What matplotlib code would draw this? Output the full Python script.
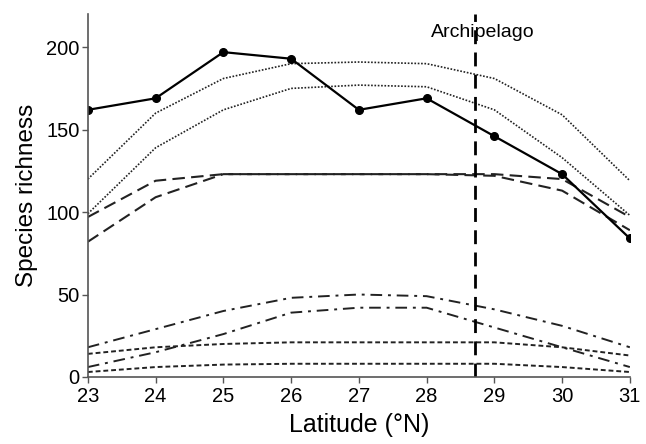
import matplotlib.pyplot as plt

plt.rcParams['font.family'] = ['Liberation Sans', 'DejaVu Sans']

lat = [23, 24, 25, 26, 27, 28, 29, 30, 31]
observed = [162, 169, 197, 193, 162, 169, 146, 123, 84]

# model envelopes (upper / lower)
dotted_hi = [120, 160, 181, 190, 191, 190, 181, 159, 119]
dotted_lo = [99, 139, 162, 175, 177, 176, 162, 133, 98]
dashed_hi = [97, 119, 123, 123, 123, 123, 123, 120, 97]
dashed_lo = [82, 109, 123, 123, 123, 123, 122, 113, 89]
dashdot_hi = [18, 29, 40, 48, 50, 49, 41, 31, 18]
dashdot_lo = [6, 15, 26, 39, 42, 42, 30, 18, 6]
short_hi = [14, 18, 20, 21, 21, 21, 21, 18, 13]
short_lo = [3, 6, 7.5, 8, 8, 8, 8, 6, 3]

archipelago = 28.72

fig = plt.figure(figsize=(6.46, 4.44), dpi=100)
ax = fig.add_axes([0.136, 0.151, 0.839, 0.817])

ax.plot(lat, dotted_hi, color='#222222', lw=1.2, linestyle=(0, (1, 1)))
ax.plot(lat, dotted_lo, color='#222222', lw=1.2, linestyle=(0, (1, 1)))
ax.plot(lat, dashed_hi, color='#222222', lw=1.5, linestyle=(0, (6, 3)))
ax.plot(lat, dashed_lo, color='#222222', lw=1.5, linestyle=(0, (6, 3)))
ax.plot(lat, dashdot_hi, color='#222222', lw=1.4, linestyle=(0, (6, 3, 1.5, 3)))
ax.plot(lat, dashdot_lo, color='#222222', lw=1.4, linestyle=(0, (6, 3, 1.5, 3)))
ax.plot(lat, short_hi, color='#222222', lw=1.4, linestyle=(0, (2.5, 1.5)))
ax.plot(lat, short_lo, color='#222222', lw=1.4, linestyle=(0, (2.5, 1.5)))
ax.plot(lat, observed, color='black', lw=1.6, marker='o', markersize=5.5)

ax.axvline(archipelago, color='black', lw=2, linestyle=(0, (5, 3)))
ax.annotate('Archipelago', (archipelago, 209), xytext=(5, 0), textcoords='offset points',
            ha='center', va='center', fontsize=14)

ax.set_xlim(23, 31)
ax.set_ylim(0, 220)
ax.set_xticks(lat)
ax.set_yticks([0, 50, 100, 150, 200])
ax.spines['top'].set_visible(False)
ax.spines['right'].set_visible(False)
for s in ['left', 'bottom']:
    ax.spines[s].set_color('#555555')
    ax.spines[s].set_linewidth(1.2)
ax.tick_params(colors='#555555', labelcolor='black', labelsize=14.5, length=4, width=1)
ax.tick_params(axis='y', pad=2)
ax.set_xlabel('Latitude (°N)', fontsize=18, labelpad=5)
ax.set_ylabel('Species richness', fontsize=17.5, labelpad=6)

plt.savefig('out.png', dpi=100)
